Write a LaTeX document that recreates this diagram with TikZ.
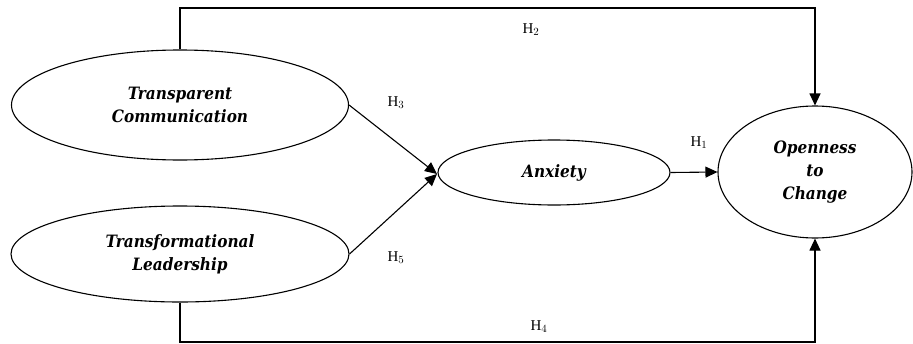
\documentclass[tikz,border=0pt]{standalone}
\usepackage{fontspec}
\setmainfont{Liberation Serif}
\newfontfamily\lblfont{DejaVu Serif Condensed}
\usetikzlibrary{shapes.geometric,arrows.meta}
\tikzset{
  construct/.style={ellipse, draw, line width=1.1pt, inner sep=0pt, align=center,
    font=\lblfont\bfseries\itshape\fontsize{17}{23}\selectfont},
  arr/.style={line width=1.1pt, -{Triangle[length=12pt,width=11pt]}},
  hyp/.style={font=\fontsize{15}{17}\selectfont, inner sep=0pt}
}
\begin{document}
\begin{tikzpicture}[x=1pt,y=-1pt]
\useasboundingbox (0,0) rectangle (913,343);
\node[construct, minimum width=337pt, minimum height=110pt] (tc) at (180,105) {Transparent\\Communication};
\node[construct, minimum width=338pt, minimum height=96pt] (tl) at (180,254) {Transformational\\Leadership};
\node[construct, minimum width=232pt, minimum height=65pt] (anx) at (554,172.5) {Anxiety};
\node[construct, minimum width=194pt, minimum height=132pt] (open) at (815,172) {Openness\\to\\Change};
\coordinate (tcup) at (180,8);
\coordinate (tldn) at (180,342);
\coordinate (conv) at (437,174);
\draw[arr] (tc.north) -- (tcup) -| (open.north);
\draw[arr] (tl.south) -- (tldn) -| (open.south);
\draw[arr] (tc.east) -- (conv);
\draw[arr] (tl.east) -- (conv);
\draw[arr] (anx.east) -- (open.west);
\node[hyp] (h2) at (531,30) {H$_2$};
\node[hyp] (h3) at (396,103) {H$_3$};
\node[hyp] (h1) at (699,143) {H$_1$};
\node[hyp] (h5) at (396,258) {H$_5$};
\node[hyp] (h4) at (539,327) {H$_4$};
\end{tikzpicture}
\end{document}
